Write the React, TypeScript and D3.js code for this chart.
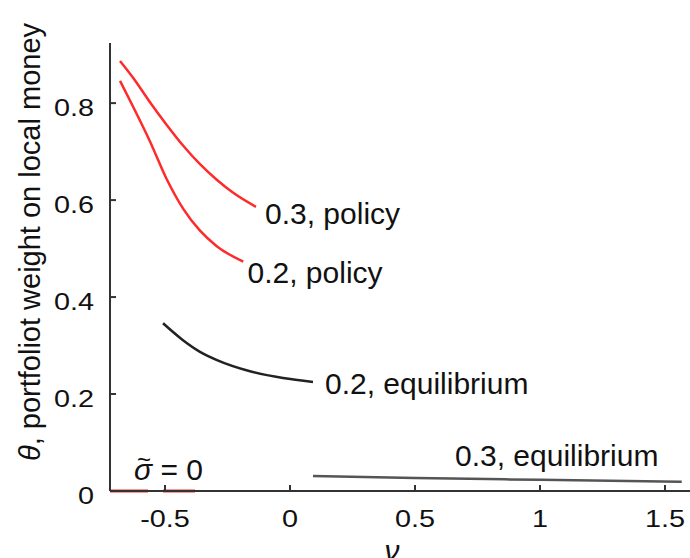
import React from "react";
import * as d3 from "d3";

// ---- data ----
const xTicks = [-0.5, 0, 0.5, 1, 1.5];
const xTickLabels = ["-0.5", "0", "0.5", "1", "1.5"];
const yTicks = [0, 0.2, 0.4, 0.6, 0.8];
const yTickLabels = ["0", "0.2", "0.4", "0.6", "0.8"];

const policy03X = [-0.68, -0.627, -0.56, -0.493, -0.427, -0.36, -0.293, -0.227, -0.136];
const policy03Y = [0.887, 0.852, 0.802, 0.755, 0.712, 0.674, 0.642, 0.615, 0.586];

const policy02X = [-0.68, -0.628, -0.56, -0.493, -0.427, -0.36, -0.293, -0.187];
const policy02Y = [0.846, 0.793, 0.721, 0.643, 0.582, 0.537, 0.505, 0.473];

const equil02X = [-0.508, -0.428, -0.36, -0.292, -0.16, -0.028, 0.092];
const equil02Y = [0.346, 0.311, 0.287, 0.27, 0.247, 0.233, 0.225];

const equil03X = [0.092, 0.5, 1.0, 1.567];
const equil03Y = [0.031, 0.027, 0.023, 0.019];

// sigma-tilde = 0 segments along theta = 0
const sigma0SegA = [-0.72, -0.568];
const sigma0SegB = [-0.508, -0.38];

const labels = [
  { text: "0.3, policy", v: -0.1, t: 0.55 },
  { text: "0.2, policy", v: -0.17, t: 0.43 },
  { text: "0.2, equilibrium", v: 0.14, t: 0.2 },
  { text: "0.3, equilibrium", v: 0.66, t: 0.051 },
];

const W = 690;
const H = 558;

export default function App() {
  const x = d3.scaleLinear().domain([-0.72, 1.6]).range([110, 690]);
  const y = d3.scaleLinear().domain([0, 0.924]).range([491, 43]);

  const line = d3
    .line<[number, number]>()
    .x((d) => x(d[0]))
    .y((d) => y(d[1]))
    .curve(d3.curveMonotoneX);

  const zip = (a: number[], b: number[]) =>
    a.map((v, i) => [v, b[i]] as [number, number]);

  const font = "'Liberation Sans', Arial, Helvetica, sans-serif";
  const red = "#ff2a2a";
  const axisColor = "#333";

  return (
    <svg
      width={W}
      height={H}
      style={{ position: "absolute", left: 0, top: 0, background: "#fff" }}
      fontFamily={font}
    >
      {/* sigma~ = 0 red lines at theta = 0 */}
      <path
        d={line(zip(sigma0SegA, [0, 0])) || ""}
        stroke={red}
        strokeWidth={3}
        fill="none"
      />
      <path
        d={line(zip(sigma0SegB, [0, 0])) || ""}
        stroke={red}
        strokeWidth={3}
        fill="none"
      />

      {/* axes */}
      <line x1={x(-0.72)} x2={x(-0.72)} y1={y(0)} y2={y(0.924)} stroke={axisColor} strokeWidth={2} />
      <line x1={x(-0.72)} x2={x(1.6)} y1={y(0)} y2={y(0)} stroke={axisColor} strokeWidth={2} />
      {xTicks.map((t, i) => (
        <g key={"xt" + i}>
          <line x1={x(t)} x2={x(t)} y1={y(0)} y2={y(0) - 6} stroke={axisColor} strokeWidth={2} />
          <text
            transform={`translate(${x(t)},527) scale(1.2,1)`}
            textAnchor="middle"
            fontSize={24}
            fill="#111"
          >
            {xTickLabels[i]}
          </text>
        </g>
      ))}
      {yTicks.map((t, i) => (
        <g key={"yt" + i}>
          <line x1={x(-0.72)} x2={x(-0.72) + 6} y1={y(t)} y2={y(t)} stroke={axisColor} strokeWidth={2} />
          <text
            transform={`translate(94,${y(t) + 12.5}) scale(1.2,1)`}
            textAnchor="end"
            fontSize={24}
            fill="#111"
          >
            {yTickLabels[i]}
          </text>
        </g>
      ))}

      {/* curves */}
      <path d={line(zip(policy03X, policy03Y)) || ""} stroke={red} strokeWidth={2.5} fill="none" />
      <path d={line(zip(policy02X, policy02Y)) || ""} stroke={red} strokeWidth={2.5} fill="none" />
      <path d={line(zip(equil02X, equil02Y)) || ""} stroke="#222" strokeWidth={2.5} fill="none" />
      <path d={line(zip(equil03X, equil03Y)) || ""} stroke="#555" strokeWidth={2.5} fill="none" />

      {/* curve labels */}
      {labels.map((l, i) => (
        <text key={"lb" + i} x={x(l.v)} y={y(l.t)} fontSize={30} fill="#111">
          {l.text}
        </text>
      ))}

      {/* sigma tilde = 0 */}
      <text x={134} y={480} fontSize={30} fill="#111">
        <tspan fontStyle="italic">σ</tspan>
        <tspan> = 0</tspan>
      </text>
      <text x={137} y={468} fontSize={24} fill="#111">
        ~
      </text>

      {/* axis titles */}
      <text
        transform="translate(40,242) rotate(-90)"
        textAnchor="middle"
        fontSize={29}
        fill="#111"
      >
        <tspan fontStyle="italic">θ</tspan>
        <tspan>, portfoliot weight on local money</tspan>
      </text>
      <text x={392} y={561} textAnchor="middle" fontSize={30} fontStyle="italic" fill="#111">
        ν
      </text>
    </svg>
  );
}
